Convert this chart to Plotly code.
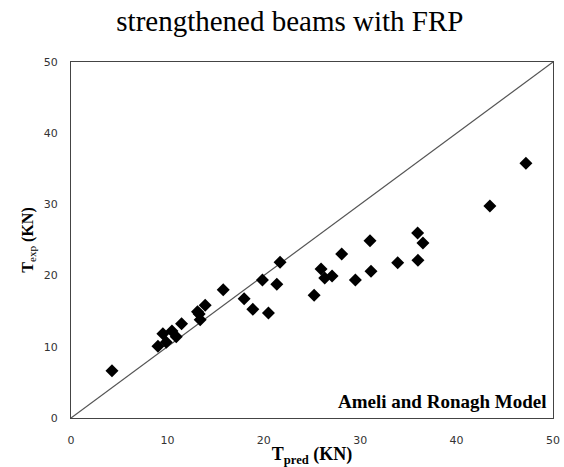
import plotly.graph_objects as go

# Predicted vs experimental capacity (kN)
t_pred = [4.25, 9.02, 9.88, 9.53, 10.47, 10.92, 11.47, 13.12, 13.3, 13.4, 13.92,
          15.79, 17.96, 18.86, 19.86, 20.48, 21.35, 21.69, 25.22, 25.94, 26.32,
          27.08, 28.08, 29.5, 31.02, 31.12, 33.89, 35.96, 35.99, 36.51, 43.45, 47.19]
t_exp = [6.65, 10.07, 10.63, 11.84, 12.22, 11.42, 13.25, 14.93, 14.6, 13.8, 15.85,
         18.02, 16.76, 15.26, 19.38, 14.75, 18.77, 21.86, 17.23, 20.93, 19.66,
         19.94, 23.03, 19.38, 24.9, 20.6, 21.82, 25.98, 22.14, 24.58, 29.78, 35.77]

# Line of equality
eq_line = [0, 50]

ticks = [0, 10, 20, 30, 40, 50]

fig = go.Figure()
fig.add_trace(go.Scatter(
    x=eq_line, y=eq_line, mode="lines",
    line=dict(color="#555555", width=1.2), hoverinfo="skip", showlegend=False))
fig.add_trace(go.Scatter(
    x=t_pred, y=t_exp, mode="markers",
    marker=dict(symbol="diamond", size=10, color="black", line=dict(width=0)),
    showlegend=False))

fig.add_annotation(
    x=1, y=0, xref="paper", yref="paper", xanchor="right", yanchor="bottom",
    xshift=-4, yshift=4, showarrow=False,
    text="<b>Ameli and Ronagh Model</b>",
    font=dict(family="Liberation Serif", size=19, color="black"))

fig.update_layout(
    width=564, height=467,
    margin=dict(l=71, r=11, t=62, b=49, autoexpand=False),
    paper_bgcolor="white", plot_bgcolor="white",
    title=dict(text="strengthened beams with FRP", x=0.514, xanchor="center",
               y=0.955, yanchor="middle",
               font=dict(family="Liberation Serif", size=29, color="black")),
    xaxis=dict(range=[0, 50], tickvals=ticks, showgrid=False, zeroline=False,
               showline=True, linecolor="#444444", linewidth=1, mirror=True,
               ticks="", ticklabelstandoff=12, automargin=False,
               tickfont=dict(family="DejaVu Sans", size=11, color="#333333"),
               title=dict(text="<b>T<sub>pred</sub> (KN)</b>",
                          standoff=3,
                          font=dict(family="Liberation Serif", size=18, color="black"))),
    yaxis=dict(range=[0, 50], tickvals=ticks, showgrid=False, zeroline=False,
               showline=True, linecolor="#444444", linewidth=1, mirror=True,
               ticks="", ticklabelstandoff=10, automargin=False,
               tickfont=dict(family="DejaVu Sans", size=11, color="#333333"),
               title=dict(text="<b>T</b><sub>exp</sub><b> (KN)</b>",
                          standoff=6,
                          font=dict(family="Liberation Serif", size=16, color="black"))),
)

fig.write_html("out.html")
